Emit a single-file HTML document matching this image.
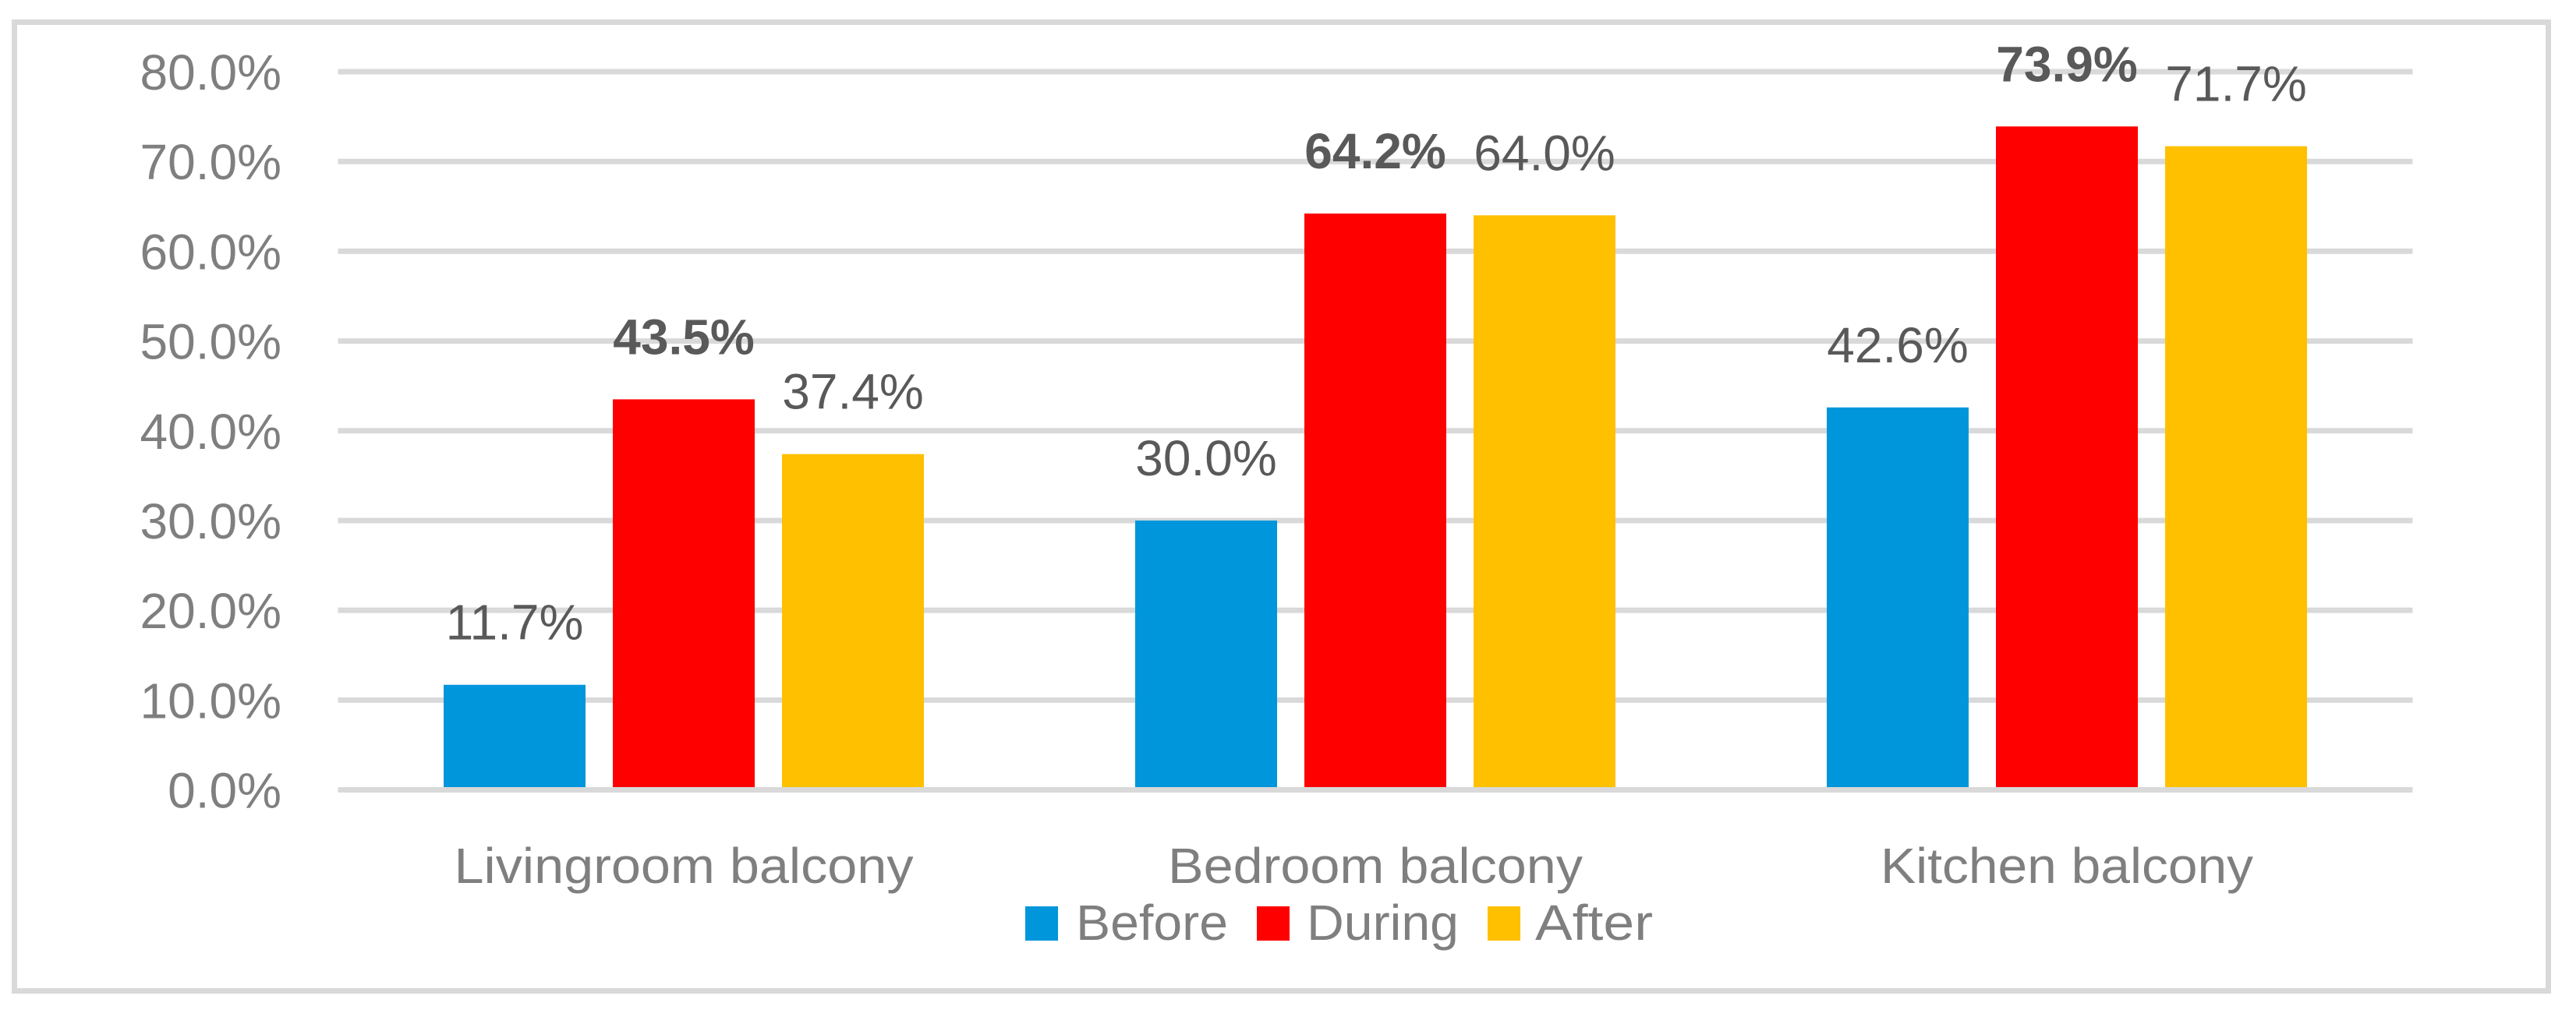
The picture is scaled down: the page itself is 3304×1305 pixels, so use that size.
<!DOCTYPE html>
<html><head><meta charset="utf-8"><style>
html,body{margin:0;padding:0;background:#fff;}
svg{display:block;font-family:"Liberation Sans",sans-serif;}
</style></head><body>
<svg id="chart" width="3304" height="1305" viewBox="0 0 3304 1305">
<rect x="18.5" y="28.5" width="3250" height="1243" fill="#fff" stroke="#d9d9d9" stroke-width="7"/>
<g id="grid"></g><g id="bars"></g><g id="labels"></g>
<g id="legend">
<rect x="1315" y="1163" width="42" height="44" fill="#0096db"/>
<text x="1380" y="1206" font-size="64" fill="#7f7f7f" textLength="195" lengthAdjust="spacingAndGlyphs">Before</text>
<rect x="1612" y="1163" width="42" height="44" fill="#ff0000"/>
<text x="1676" y="1206" font-size="64" fill="#7f7f7f" textLength="195" lengthAdjust="spacingAndGlyphs">During</text>
<rect x="1908" y="1163" width="42" height="44" fill="#ffc000"/>
<text x="1969" y="1206" font-size="64" fill="#7f7f7f" textLength="151" lengthAdjust="spacingAndGlyphs">After</text>
</g>
</svg>
<script>
const categories = ["Livingroom balcony", "Bedroom balcony", "Kitchen balcony"];
const before = [11.7, 30.0, 42.6];
const during = [43.5, 64.2, 73.9];
const after = [37.4, 64.0, 71.7];
const yTicks = [0, 10, 20, 30, 40, 50, 60, 70, 80];
const tickLabels = ["0.0%", "10.0%", "20.0%", "30.0%", "40.0%", "50.0%", "60.0%", "70.0%", "80.0%"];

const NS = "http://www.w3.org/2000/svg";
const plotL = 433.5, plotR = 3094.5, y0 = 1013.5, y80 = 92;
const catW = (plotR - plotL) / categories.length;
const barW = 182, gap = 35;
function yScale(v){ return y0 - (v / 80) * (y0 - y80); }
function xCat(i){ return plotL + catW * (i + 0.5); }
function mk(tag, attrs, parent){ const e = document.createElementNS(NS, tag); for (const k in attrs) e.setAttribute(k, attrs[k]); parent.appendChild(e); return e; }

const grid = document.getElementById('grid');
const bars = document.getElementById('bars');
const labels = document.getElementById('labels');

yTicks.forEach((t, i) => {
  const y = yScale(t);
  const ln = mk('line', {x1: plotL, x2: plotR, y1: y, y2: y, stroke: '#d9d9d9', 'stroke-width': 7}, grid);
  
  
  const tx = mk('text', {x: 361, y: y + 23, 'text-anchor': 'end', 'font-size': 64, fill: '#7f7f7f'}, grid);
  tx.textContent = tickLabels[i];
  
  
});

const catLens = [589, 532, 478];
categories.forEach((c, i) => {
  const tx = mk('text', {x: xCat(i), y: 1133, 'text-anchor': 'middle', 'font-size': 64, fill: '#7f7f7f', textLength: catLens[i], lengthAdjust: 'spacingAndGlyphs'}, labels);
  tx.textContent = c;
  
  
});

const series = [
  {vals: before, color: '#0096db', bold: false, name: 'before'},
  {vals: during, color: '#ff0000', bold: true, name: 'during'},
  {vals: after, color: '#ffc000', bold: false, name: 'after'}
];
series.forEach((s, si) => {
  s.vals.forEach((v, i) => {
    const cx = xCat(i) + (si - 1) * (barW + gap);
    const top = yScale(v);
    const r = mk('rect', {x: cx - barW / 2, y: top, width: barW, height: y0 - 3.5 - top, fill: s.color}, bars);
    
    
    const tx = mk('text', {x: cx, y: top - 58, 'text-anchor': 'middle', 'font-size': 64, fill: '#595959', 'font-weight': s.bold ? 'bold' : 'normal'}, labels);
    tx.textContent = v.toFixed(1) + '%';
    
    
  });
});
</script>
</body></html>
